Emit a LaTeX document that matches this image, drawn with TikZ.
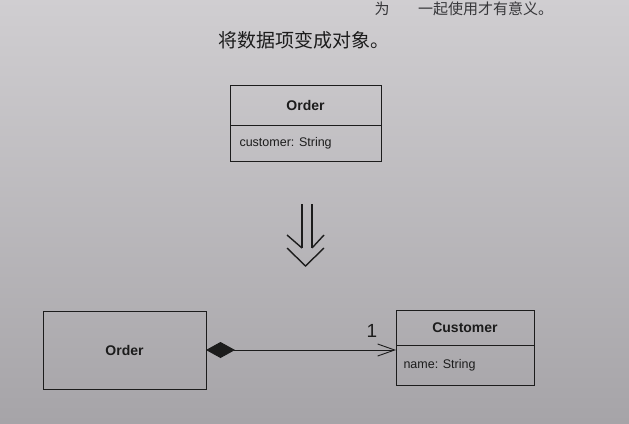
\documentclass[tikz,border=0pt]{standalone}
\usepackage{fontspec}
\setmainfont{Liberation Sans}
\newfontfamily\cjk{Noto Sans CJK SC}
\usetikzlibrary{arrows.meta}
\definecolor{pagetop}{RGB}{208,206,209}
\definecolor{pagebot}{RGB}{166,164,168}
\definecolor{ink}{RGB}{28,28,28}
\definecolor{faded}{RGB}{55,55,58}
\tikzset{
  umlbox/.style={draw=ink, line width=0.9pt, rectangle, inner sep=0pt, outer sep=0pt},
  bold/.style={font=\fontsize{14}{16}\selectfont\bfseries, text=ink},
  attr/.style={font=\fontsize{12.5}{14}\selectfont, text=ink},
  cjktext/.style={font=\cjk\fontsize{19}{21}\selectfont, text=ink, inner sep=0pt},
  toptext/.style={font=\cjk\fontsize{15}{17}\selectfont, text=faded, inner sep=0pt},
  conn/.style={draw=ink, line width=0.9pt},
  dbl/.style={draw=ink, line width=1.4pt}
}
\begin{document}
\begin{tikzpicture}[x=1pt,y=-1pt]
\useasboundingbox (0,0) rectangle (629,423);
\shade[top color=pagetop, bottom color=pagebot] (0,0) rectangle (629,423);
\node[toptext] (l1a) at (382,8.5) {为};
\node[toptext, anchor=west] (l1b) at (418,8.5) {一起使用才有意义。};
\node[cjktext] (title) at (304,40) {将数据项变成对象。};

% top Order class
\node[umlbox, minimum width=151pt, minimum height=40pt] (ohead) at (305.5,105) {};
\node[bold] (otitle) at (ohead.center) {Order};
\node[umlbox, minimum width=151pt, minimum height=36pt] (obody) at (305.5,143) {};
\node[attr, anchor=west] (oattr) at (236,143) {customer: String};

% transformation arrow
\coordinate (al) at (302,204);
\coordinate (ar) at (312,204);
\draw[dbl] (al) -- (302,248);
\draw[dbl] (ar) -- (312,248);
\draw[dbl] (287,235) -- (302,248);
\draw[dbl] (324,235) -- (312,248);
\draw[dbl] (287,248) -- (305.5,266) -- (324,248);

% bottom classes
\node[umlbox, minimum width=163pt, minimum height=78pt] (order) at (124.5,350) {};
\node[bold] (btitle) at (order.center) {Order};
\node[umlbox, minimum width=138pt, minimum height=35pt] (chead) at (465,327.5) {};
\node[bold] (ctitle) at (chead.center) {Customer};
\node[umlbox, minimum width=138pt, minimum height=40pt] (cbody) at (465,365) {};
\node[attr, anchor=west] (cattr) at (400,365) {name: String};

\draw[conn, {Diamond[length=29pt,width=16pt]}-{Straight Barb[length=17pt,width=12pt]}]
  (order.east) -- (order.east -| cbody.west);
\node[font=\fontsize{19}{21}\selectfont, text=ink, inner sep=0pt] (mult) at (372,331) {1};
\end{tikzpicture}
\end{document}
